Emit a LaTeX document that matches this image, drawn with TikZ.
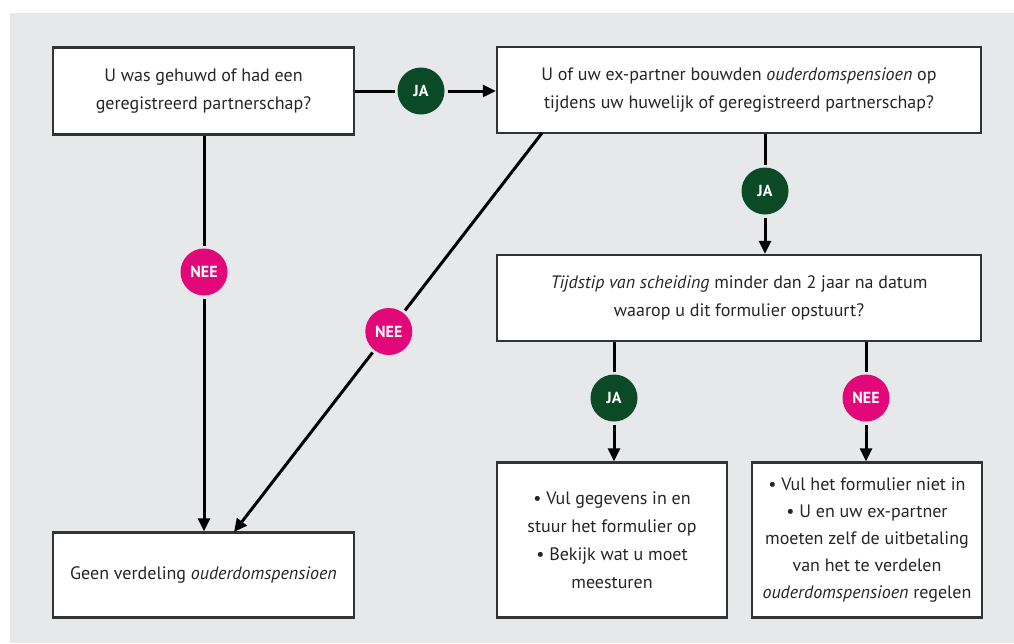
\documentclass[tikz,border=0pt]{standalone}
\usepackage{fontspec}
\setmainfont{PT Sans}
\usetikzlibrary{arrows.meta}
\definecolor{bggray}{HTML}{E7E8EA}
\definecolor{jagreen}{HTML}{0B4A26}
\definecolor{neepink}{HTML}{E2087A}
\definecolor{boxline}{HTML}{333333}
\definecolor{txt}{HTML}{262626}
\begin{document}
\begin{tikzpicture}[x=1pt,y=-1pt,
  box/.style={draw=boxline,line width=2.4pt,fill=white,rectangle,align=center,text=txt,
    font=\fontsize{18}{28}\selectfont,inner sep=0pt},
  badge/.style={circle,minimum size=47pt,inner sep=0pt,outer sep=3pt,text=white,
    font=\fontsize{16}{16}\selectfont\bfseries},
  ja/.style={badge,fill=jagreen},
  nee/.style={badge,fill=neepink},
  conn/.style={line width=3pt,draw=black},
  arr/.style={conn,-{Triangle[length=13pt,width=12pt]}}]
\useasboundingbox (0,0) rectangle (1014,643);
\fill[white] (0,0) rectangle (1014,643);
\fill[bggray] (10,13) rectangle (1014,643);

\node[box,minimum width=301pt,minimum height=87pt] (A) at (203.5,91)
  {U was gehuwd of had een\\geregistreerd partnerschap?};
\node[box,minimum width=484pt,minimum height=86pt] (B) at (739,90)
  {U of uw ex-partner bouwden \textit{ouderdomspensioen} op\\tijdens uw huwelijk of geregistreerd partnerschap?};
\node[box,minimum width=484pt,minimum height=86pt] (C) at (739,298)
  {\textit{Tijdstip van scheiding} minder dan 2 jaar na datum\\waarop u dit formulier opstuurt?};
\node[box,minimum width=230pt,minimum height=155pt] (D) at (612,540)
  {\textbullet{} Vul gegevens in en\\stuur het formulier op\\\textbullet{} Bekijk wat u moet\\meesturen};
\node[box,minimum width=230pt,minimum height=155pt,font=\fontsize{18}{27}\selectfont] (E) at (867,540)
  {\textbullet{} Vul het formulier niet in\\\textbullet{} U en uw ex-partner\\moeten zelf de uitbetaling\\van het te verdelen\\\textit{ouderdomspensioen} regelen};
\node[box,minimum width=301pt,minimum height=85pt] (F) at (203.5,575)
  {Geen verdeling \textit{ouderdomspensioen}};

\node[ja] (ja1) at (421,91) {JA};
\node[ja] (ja2) at (765,191) {JA};
\node[ja] (ja3) at (614,398) {JA};
\node[nee] (nee3) at (866,398) {NEE};
\node[nee] (nee1) at (204,272) {NEE};

\coordinate (bstart) at (542,133);
\coordinate (fend) at (234,532);
\path (bstart) -- (fend) node[nee,pos=0.4975] (nee2) {NEE};

\draw[conn] (A.east |- ja1) -- (ja1);
\draw[arr] (ja1) -- (B.west |- ja1);
\draw[conn] (ja2 |- B.south) -- (ja2);
\draw[arr] (ja2) -- (ja2 |- C.north);
\draw[conn] (ja3 |- C.south) -- (ja3);
\draw[arr] (ja3) -- (ja3 |- D.north);
\draw[conn] (nee3 |- C.south) -- (nee3);
\draw[arr] (nee3) -- (nee3 |- E.north);
\draw[conn] (nee1 |- A.south) -- (nee1);
\draw[arr] (nee1) -- (nee1 |- F.north);
\draw[conn] (bstart) -- (nee2);
\draw[arr] (nee2) -- (fend);
\end{tikzpicture}
\end{document}
